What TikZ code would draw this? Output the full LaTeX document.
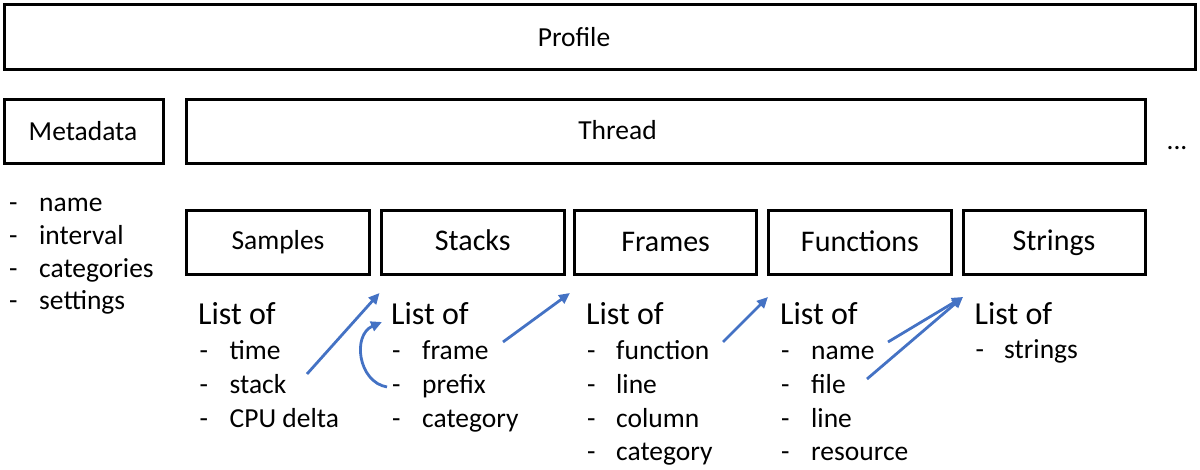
\documentclass[tikz,border=0pt]{standalone}
\usepackage{fontspec}
\setmainfont{Carlito}
\usetikzlibrary{arrows.meta}
\definecolor{arrowblue}{HTML}{4472C4}
\begin{document}
\begin{tikzpicture}[x=1pt,y=-1pt,
  box/.style={draw,line width=3pt,inner sep=0pt},
  lbl/.style={anchor=base,inner sep=0pt,font=\fontsize{27.5}{33}\selectfont},
  biglbl/.style={anchor=base,inner sep=0pt,font=\fontsize{30}{36}\selectfont},
  listhead/.style={anchor=base west,inner sep=0pt,font=\fontsize{32}{38}\selectfont},
  item/.style={anchor=base west,inner sep=0pt,font=\fontsize{27.5}{33}\selectfont},
  arr/.style={draw=arrowblue,line width=2.8pt,-{Triangle[length=11pt,width=10pt]}}]
\useasboundingbox (0,0) rectangle (1200,470);
% boxes
\node[box,minimum width=1191pt,minimum height=65pt] (profile) at (600,37) {};
\node[lbl] (profilelbl) at (574,46.7) {Profile};
\node[box,minimum width=159pt,minimum height=64pt] (metadata) at (84,131.5) {};
\node[lbl] (metadatalbl) at (83,140.5) {Metadata};
\node[box,minimum width=958.5pt,minimum height=64pt] (thread) at (665.75,131.5) {};
\node[lbl] (threadlbl) at (617.5,140) {Thread};
\node[lbl] (dots) at (1177,150) {...};
\node[box,minimum width=183pt,minimum height=64.5pt] (samples) at (278,242.7) {};
\node[lbl] (sampleslbl) at (278,249.5) {Samples};
\node[box,minimum width=182.5pt,minimum height=64.5pt] (stacks) at (472.75,242.7) {};
\node[biglbl] (stackslbl) at (472.75,251) {Stacks};
\node[box,minimum width=182pt,minimum height=64.5pt] (frames) at (665.6,242.7) {};
\node[biglbl] (frameslbl) at (665.6,252) {Frames};
\node[box,minimum width=182.5pt,minimum height=64.5pt] (functions) at (860,242.7) {};
\node[biglbl] (functionslbl) at (860,252) {Functions};
\node[box,minimum width=182pt,minimum height=64.5pt] (strings) at (1054,242.7) {};
\node[biglbl] (stringslbl) at (1054,251) {Strings};
% metadata list
\node[item] (m1) at (9,211.7) {\makebox[30pt][l]{-}name};
\node[item] (m2) at (9,245) {\makebox[30pt][l]{-}interval};
\node[item] (m3) at (9,277.5) {\makebox[30pt][l]{-}categories};
\node[item] (m4) at (9,310) {\makebox[30pt][l]{-}settings};
% samples list
\node[listhead] (sl) at (198,325) {List of};
\node[item] (s1) at (199.5,360) {\makebox[30pt][l]{-}time};
\node[item] (s2) at (199.5,393.5) {\makebox[30pt][l]{-}stack};
\node[item] (s3) at (199.5,427) {\makebox[30pt][l]{-}CPU delta};
% stacks list
\node[listhead] (tl) at (391,325) {List of};
\node[item] (t1) at (392,360) {\makebox[30pt][l]{-}frame};
\node[item] (t2) at (392,393.5) {\makebox[30pt][l]{-}prefix};
\node[item] (t3) at (392,427) {\makebox[30pt][l]{-}category};
% frames list
\node[listhead] (fl) at (586,325) {List of};
\node[item] (f1) at (587,360) {\makebox[29pt][l]{-}function};
\node[item] (f2) at (587,393.5) {\makebox[29pt][l]{-}line};
\node[item] (f3) at (587,427) {\makebox[29pt][l]{-}column};
\node[item] (f4) at (587,460.5) {\makebox[29pt][l]{-}category};
% functions list
\node[listhead] (ul) at (780,325) {List of};
\node[item] (u1) at (781,360) {\makebox[30pt][l]{-}name};
\node[item] (u2) at (781,393.5) {\makebox[30pt][l]{-}file};
\node[item] (u3) at (781,427) {\makebox[30pt][l]{-}line};
\node[item] (u4) at (781,460.5) {\makebox[30pt][l]{-}resource};
% strings list
\node[listhead] (rl) at (974.5,325) {List of};
\node[item] (r1) at (975.5,358.5) {\makebox[28.5pt][l]{-}strings};
% arrow end points
\coordinate (a1s) at (307,374);
\coordinate (a1e) at (379.5,293);
\coordinate (a2s) at (387,387);
\coordinate (a2e) at (382,322);
\coordinate (a3s) at (503,342);
\coordinate (a3e) at (570,293);
\coordinate (a4s) at (723,342);
\coordinate (a4e) at (768,297);
\coordinate (a5s) at (888,342);
\coordinate (a6s) at (867,379);
\coordinate (a5e) at (963,297);
\draw[arr] (a1s) -- (a1e);
\draw[arr] (a2s) .. controls (358,382) and (352,335) .. (a2e);
\draw[arr] (a3s) -- (a3e);
\draw[arr] (a4s) -- (a4e);
\draw[arr] (a5s) -- (a5e);
\draw[arr] (a6s) -- (a5e);
\end{tikzpicture}
\end{document}
